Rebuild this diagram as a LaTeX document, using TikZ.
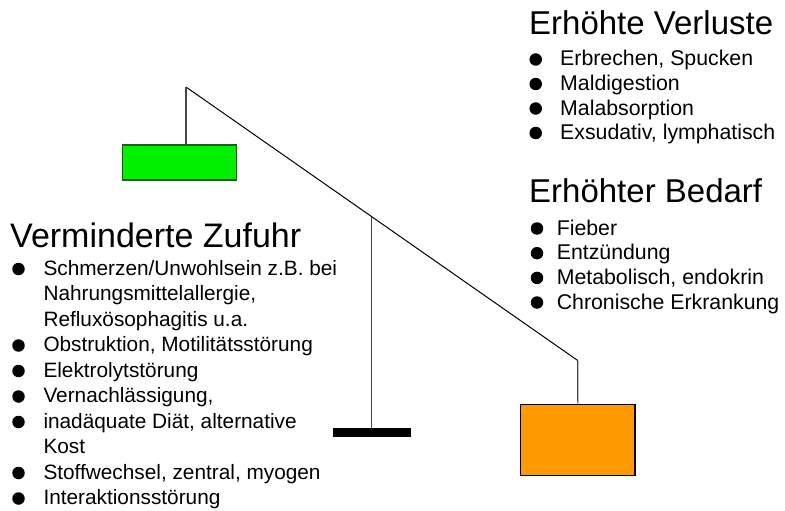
\documentclass[tikz,border=0pt]{standalone}
\usepackage{fontspec}
\setmainfont{Liberation Sans}
\usetikzlibrary{calc}
\definecolor{boxgreen}{RGB}{0,240,0}
\definecolor{boxgreenline}{RGB}{20,100,20}
\definecolor{boxorange}{RGB}{255,153,0}
\definecolor{stemgray}{RGB}{70,70,70}
\tikzset{
  beam/.style={line width=1pt, draw=black},
  stem/.style={line width=1.1pt, draw=stemgray},
  weight/.style={rectangle, inner sep=0pt, line width=1.2pt},
  heading/.style={anchor=base west, inner sep=0pt, font=\fontsize{33}{38}\selectfont},
  itemleft/.style={anchor=base west, inner sep=0pt, font=\fontsize{20.8}{25}\selectfont},
  itemright/.style={anchor=base west, inner sep=0pt, font=\fontsize{21.3}{25}\selectfont},
  dot/.style={circle, fill=black, inner sep=0pt, minimum size=12.5pt}
}
\begin{document}
\begin{tikzpicture}[x=1pt, y=-1pt]
\useasboundingbox (0,0) rectangle (785,511);

% balance
\coordinate (top) at (186,87);
\coordinate (hook) at (577.7,360.5);
\coordinate (pivot) at ($(top)!0.474!(hook)$);
\node[weight, fill=boxgreen, draw=boxgreenline, minimum width=114.4pt, minimum height=35pt] (green) at (179.5,162.5) {};
\node[weight, fill=boxorange, draw=black, minimum width=114.3pt, minimum height=71.4pt] (orange) at (577.8,440) {};
\node[rectangle, fill=black, inner sep=0pt, minimum width=77.4pt, minimum height=9pt] (bar) at (372,432.8) {};

\draw[beam] (top) -- (hook);
\draw[stem] (top) -- (top |- green.north);
\draw[stem] (hook) -- (orange.north);
\draw[stem] (pivot) -- (pivot |- bar.north);

% left text
\node[heading, font=\fontsize{34}{40}\selectfont] (hL) at (10,247.7) {Verminderte Zufuhr};
\node[itemleft] (L1) at (43.3,275) {Schmerzen/Unwohlsein z.B. bei};
\node[itemleft] (L2) at (43.3,300.5) {Nahrungsmittelallergie,};
\node[itemleft] (L3) at (43.3,326) {Refluxösophagitis u.a.};
\node[itemleft] (L4) at (43.3,351.5) {Obstruktion, Motilitätsstörung};
\node[itemleft] (L5) at (43.3,377) {Elektrolytstörung};
\node[itemleft] (L6) at (43.3,402.5) {Vernachlässigung,};
\node[itemleft] (L7) at (43.3,428) {inadäquate Diät, alternative};
\node[itemleft] (L8) at (43.3,453.5) {Kost};
\node[itemleft] (L9) at (43.3,479) {Stoffwechsel, zentral, myogen};
\node[itemleft] (L10) at (43.3,504.5) {Interaktionsstörung};
\foreach \n/\y in {1/275,4/351.5,5/377,6/402.5,7/428,9/479,10/504.5}
  \node[dot] (bL\n) at (18.5,\y-6) {};

% right top text
\node[heading] (hV) at (529,35) {Erhöhte Verluste};
\node[itemright] (V1) at (560,66) {Erbrechen, Spucken};
\node[itemright] (V2) at (560,90.5) {Maldigestion};
\node[itemright] (V3) at (560,115) {Malabsorption};
\node[itemright] (V4) at (560,139.5) {Exsudativ, lymphatisch};
\foreach \n/\y in {1/66,2/90.5,3/115,4/139.5}
  \node[dot] (bV\n) at (535.7,\y-6.5) {};

% right middle text
\node[heading] (hB) at (529,202) {Erhöhter Bedarf};
\node[itemright] (B1) at (556.6,235) {Fieber};
\node[itemright] (B2) at (556.6,259.7) {Entzündung};
\node[itemright] (B3) at (556.6,284.4) {Metabolisch, endokrin};
\node[itemright] (B4) at (556.6,309) {Chronische Erkrankung};
\foreach \n/\y in {1/235,2/259.7,3/284.4,4/309}
  \node[dot] (bB\n) at (537,\y-6.5) {};
\end{tikzpicture}
\end{document}
